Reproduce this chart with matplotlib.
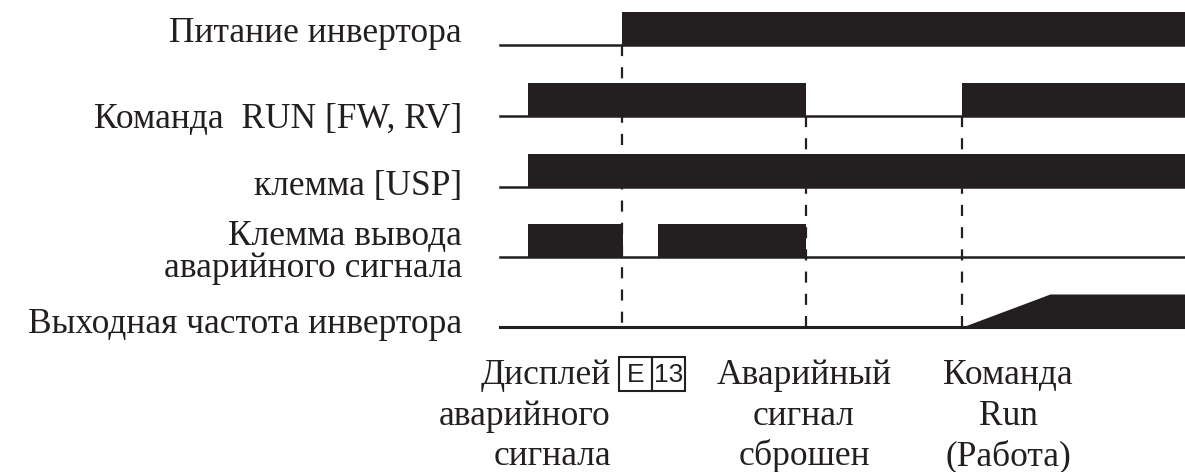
import matplotlib.pyplot as plt
from matplotlib.patches import Rectangle

# временная диаграмма: время в условных единицах (по горизонтали)
t_end = 1185
t_start = 500

# подписи сигналов (слева)
labels = ["Питание инвертора",
          "Команда  RUN [FW, RV]",
          "клемма [USP]",
          "Клемма вывода\nаварийного сигнала",
          "Выходная частота инвертора"]

# моменты переключения и уровни (0/1) для каждого сигнала
power_t = [t_start, 622, t_end]
power_v = [0, 1, 1]

run_t = [t_start, 528, 806, 962, t_end]
run_v = [0, 1, 0, 1, 1]

usp_t = [t_start, 528, t_end]
usp_v = [0, 1, 1]

alarm_t = [t_start, 528, 623, 658, 806, t_end]
alarm_v = [0, 1, 0, 1, 0, 0]

# выходная частота: разгон от 962 до 1050
freq_t = [t_start, 962, 1050, t_end]
freq_v = [0, 0, 1, 1]

# события (пунктирные линии)
event_t = [622, 806, 962]

# подписи событий снизу
ev1 = ["Дисплей", "аварийного", "сигнала"]
ev2 = ["Аварийный", "сигнал", "сброшен"]
ev3 = ["Команда", "Run", "(Работа)"]

serif = "Liberation Serif"
ink = "#231f20"

fig = plt.figure(figsize=(11.85, 4.72), dpi=100)
ax = fig.add_axes([0, 0, 1, 1])
ax.set_xlim(0, 1185)
ax.set_ylim(472, 0)
ax.axis("off")

base = [45, 116, 187, 257, 327]
h = 33

# пунктир
ax.plot([event_t[0], event_t[0]], [base[0], base[4]], color=ink, lw=1.6,
        dashes=(5, 5), zorder=1)
for t in event_t[1:]:
    ax.plot([t, t], [base[1], base[4]], color=ink, lw=1.6, dashes=(5, 5), zorder=1)

step_signals = [(power_t, power_v), (run_t, run_v), (usp_t, usp_v), (alarm_t, alarm_v)]
for i, (tt, vv) in enumerate(step_signals):
    y0 = base[i]
    ax.plot([t_start, t_end], [y0, y0], color=ink, lw=1.8, zorder=2)
    top = [y0 - v * h for v in vv]
    ax.fill_between(tt, y0, top, step="post", color=ink, lw=0, zorder=3)

# выходная частота
y0 = base[4]
ax.plot([t_start, t_end], [y0, y0], color=ink, lw=2.2, zorder=2)
ax.fill_between(freq_t, y0, [y0 - v * h for v in freq_v], color=ink, lw=0, zorder=3)

# подписи слева (многострочная подпись - одним текстом, y = базовая линия последней строки)
fs = 25.5
label_y = [42, 128, 195, 277, 333]
for i, lab in enumerate(labels):
    ax.text(462, label_y[i], lab, ha="right", va="baseline", multialignment="right",
            linespacing=0.95, fontsize=fs, family=serif, color=ink)

# подписи снизу
bot_y = [384, 425, 465]
for j in range(3):
    ax.text(611, bot_y[j], ev1[j], ha="right", va="baseline", fontsize=fs,
            family=serif, color=ink)
    ax.text(804, bot_y[j], ev2[j], ha="center", va="baseline", fontsize=fs,
            family=serif, color=ink)
    ax.text(1008, bot_y[j], ev3[j], ha="center", va="baseline", fontsize=fs,
            family=serif, color=ink)

# индикатор E 13
ax.add_patch(Rectangle((619, 357), 33, 34, fill=False, ec=ink, lw=1.5))
ax.add_patch(Rectangle((652, 357), 33, 34, fill=False, ec=ink, lw=1.5))
ax.text(635.5, 375, "E", ha="center", va="center", fontsize=19,
        family="Liberation Sans", color=ink)
ax.text(668.5, 375, "13", ha="center", va="center", fontsize=19,
        family="Liberation Sans", color=ink)

fig.savefig("out.png", dpi=100)
